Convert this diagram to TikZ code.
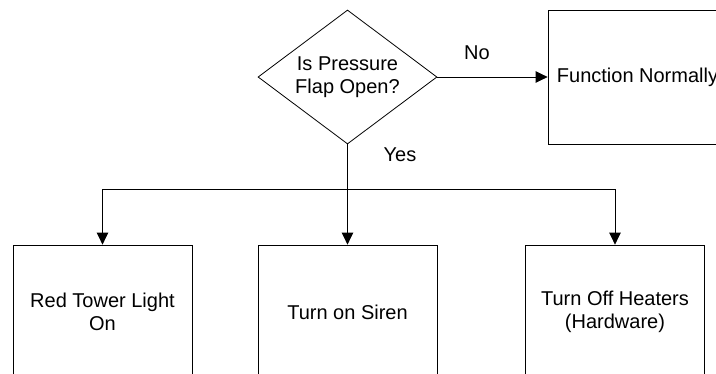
\documentclass[tikz,border=0pt]{standalone}
\usepackage{fontspec}
\setmainfont{Liberation Sans}
\usetikzlibrary{shapes.geometric,arrows.meta}
\begin{document}
\begin{tikzpicture}[x=1pt,y=-1pt,
  every node/.style={font=\fontsize{20}{22.5}\selectfont},
  box/.style={draw,line width=0.8pt,minimum width=179pt,minimum height=134pt,
    inner sep=0pt,align=center},
  decision/.style={draw,line width=0.8pt,shape=diamond,aspect=1.336,
    minimum width=179pt,minimum height=134pt,inner sep=0pt,align=center},
  arr/.style={line width=0.8pt,-{Triangle[length=12pt,width=11.5pt]}},
  lbl/.style={inner sep=0pt}]
  \useasboundingbox (0,0) rectangle (716,373);
  \clip (0,0) rectangle (716,373);

  % decision and the "No" branch
  \node[decision] (flap) at (347.5,77) {Is Pressure\\Flap Open?};
  \node[box] (normal) at (637.5,77) {Function Normally};

  % actions on the "Yes" branch
  \node[box] (light) at (102.5,312) {Red Tower Light\\On};
  \node[box] (siren) at (347.5,312) {Turn on Siren};
  \node[box] (heat) at (615,312) {Turn Off Heaters\\(Hardware)};

  \coordinate (split) at (flap.south |- 0,189);

  \draw[arr] (flap.east) -- (normal.west);
  \draw[arr] (flap.south) -- (siren.north);
  \draw[arr] (split) -| (light.north);
  \draw[arr] (split) -| (heat.north);

  \node[lbl] (no) at (477,53) {No};
  \node[lbl] (yes) at (400,155) {Yes};
\end{tikzpicture}
\end{document}
